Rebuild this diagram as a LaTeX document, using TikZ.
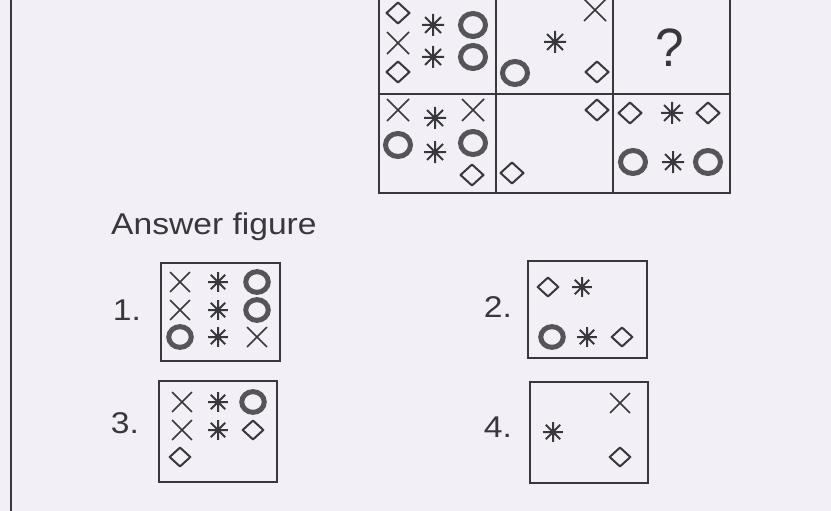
\documentclass[tikz,border=0pt]{standalone}
\usepackage{fontspec}
\setmainfont{Liberation Sans}
\usetikzlibrary{positioning}
\definecolor{paper}{RGB}{242,239,246}
\definecolor{ink}{RGB}{55,55,60}

\begin{document}
\begin{tikzpicture}[x=1pt, y=-1pt,
  frame/.style={draw=ink, line width=2.2pt},
  label/.style={font=\fontsize{30}{34}\selectfont, text=ink, inner sep=0pt},
  ring/.pic={\draw[ink!85, line width=5pt] (0,0) ellipse [x radius=12.5, y radius=11.5];},
  diam/.pic={\draw[ink, line width=2pt, line join=round] (-11.5,0) -- (0,-10.5) -- (11.5,0) -- (0,10.5) -- cycle;},
  cross/.pic={\draw[ink, line width=1.7pt] (-11,-11) -- (11,11) (-11,11) -- (11,-11);},
  star/.pic={\draw[ink, line width=2pt] (-11,0) -- (11,0) (0,-11) -- (0,11) (-8,-8) -- (8,8) (-8,8) -- (8,-8);}
]
\fill[paper] (0,0) rectangle (831,511);
\useasboundingbox (0,0) rectangle (831,511);
\draw[ink, line width=1.5pt] (11,0) -- (11,511);

% problem figure
\draw[frame] (379,-6) rectangle (730,193);
\draw[frame] (496,-6) -- (496,193);
\draw[frame] (613,-6) -- (613,193);
\draw[frame] (379,94) -- (730,94);
\node[text=ink, font=\fontsize{54}{58}\selectfont, inner sep=0pt] (q) at (670,48) {\scalebox{0.95}[1]{?}};

\foreach \x/\y in {398/13, 398/72, 597/72, 472/175, 597/110, 512/173, 630/113, 708/113}
  \pic at (\x,\y) {diam};
\foreach \x/\y in {398/43, 595/10, 398/110, 473/110}
  \pic at (\x,\y) {cross};
\foreach \x/\y in {433/25, 433/57, 555/42, 435/118, 435/152, 672/113, 673/162}
  \pic at (\x,\y) {star};
\foreach \x/\y in {473/25, 473/57, 515/73, 398/145, 473/143, 633/162, 708/162}
  \pic at (\x,\y) {ring};

% answer figure
\node[label, anchor=west] (ans) at (111,227) {\scalebox{1.12}[1]{Answer figure}};
\node[label] (l1) at (127,310) {\scalebox{1.12}[1]{1.}};
\node[label] (l2) at (498,307) {\scalebox{1.12}[1]{2.}};
\node[label] (l3) at (125,423) {\scalebox{1.12}[1]{3.}};
\node[label] (l4) at (498,427) {\scalebox{1.12}[1]{4.}};

\draw[frame, line width=2.6pt] (161,263) rectangle (280,361);
\draw[frame, line width=2.6pt] (528,261) rectangle (647,358);
\draw[frame, line width=2.6pt] (159,381) rectangle (277,482);
\draw[frame, line width=2.6pt] (530,382) rectangle (648,483);

\foreach \x/\y in {548/287, 622/337, 620/457, 253/430, 180/457}
  \pic[scale=0.9] at (\x,\y) {diam};
\foreach \x/\y in {180/282, 180/310, 257/337, 620/403, 182/402, 182/430}
  \pic[scale=0.9] at (\x,\y) {cross};
\foreach \x/\y in {218/282, 218/310, 218/337, 582/287, 587/337, 553/432, 218/402, 218/430}
  \pic[scale=0.9] at (\x,\y) {star};
\foreach \x/\y in {257/282, 257/310, 180/337, 552/337, 253/402}
  \pic[scale=0.9] at (\x,\y) {ring};
\end{tikzpicture}
\end{document}
